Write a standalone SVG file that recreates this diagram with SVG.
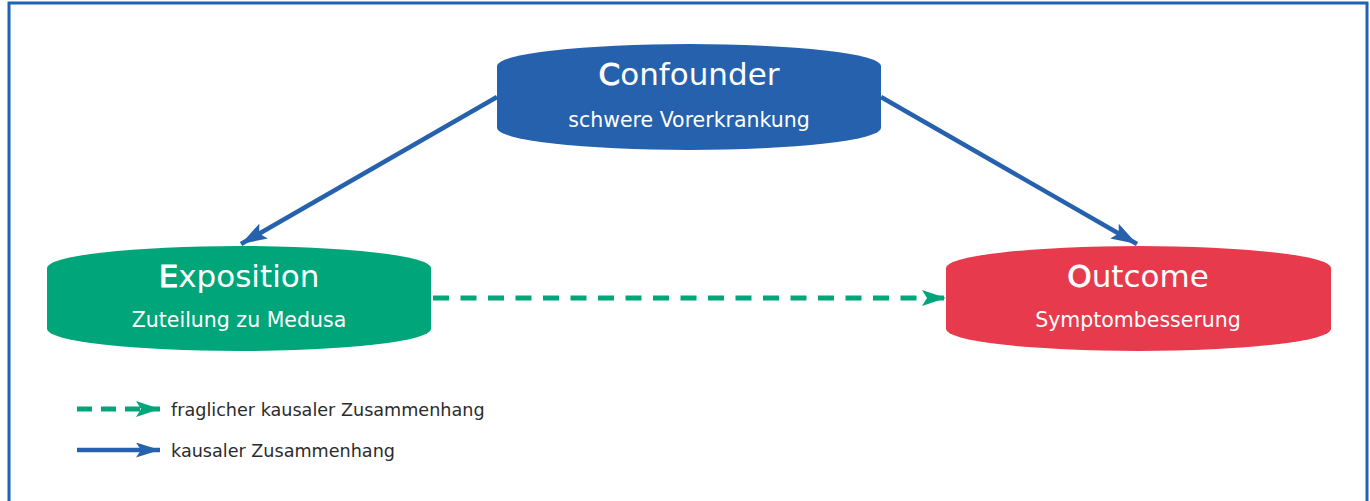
<svg xmlns="http://www.w3.org/2000/svg" width="1370" height="501" viewBox="0 0 1370 501">
<style>
.title{font-family:"DejaVu Sans",sans-serif;font-size:31px;fill:#fff;text-anchor:middle}
.sub{font-family:"DejaVu Sans",sans-serif;font-size:20.5px;fill:#fff;text-anchor:middle}
.b{stroke:#fff;stroke-width:0.9}
.leg{font-family:"DejaVu Sans",sans-serif;font-size:17.6px;fill:#2b2b2b}
.blue{stroke:#2561ad;stroke-width:4.5;fill:none}
.green{stroke:#00a67a;stroke-width:5;fill:none;stroke-dasharray:16 11.5}
</style>
<defs>
<marker id="ab" viewBox="0 0 26 17" refX="26" refY="8.5" markerWidth="26" markerHeight="17" markerUnits="userSpaceOnUse" orient="auto">
<path d="M0,0 L26,8.5 L0,17 L5,8.5 Z" fill="#2561ad"/>
</marker>
<marker id="ag" viewBox="0 0 24 16" refX="24" refY="8" markerWidth="24" markerHeight="16" markerUnits="userSpaceOnUse" orient="auto">
<path d="M0,0 L24,8 L0,16 L5,8 Z" fill="#00a67a"/>
</marker>
<marker id="lb" viewBox="0 0 24 15" refX="24" refY="7.5" markerWidth="24" markerHeight="15" markerUnits="userSpaceOnUse" orient="auto">
<path d="M0,0 L24,7.5 L0,15 L5,7.5 Z" fill="#2561ad"/>
</marker>
</defs>
<rect x="9" y="3" width="1358" height="510" fill="#fff" stroke="#1f63b4" stroke-width="3"/>
<g id="connectors">
<line class="blue" x1="497" y1="97" x2="241" y2="244" marker-end="url(#ab)"/>
<line class="blue" x1="881" y1="97" x2="1137" y2="244" marker-end="url(#ab)"/>
<line class="green" x1="433" y1="298" x2="946" y2="298" marker-end="url(#ag)"/>
</g>
<g id="confounder">
<path d="M497,66 A192,22 0 0 1 881,66 L881,128 A192,22 0 0 1 497,128 Z" fill="#2561ad"/>
<text class="title" x="689" y="85"><tspan class="b">C</tspan>onfounder</text>
<text class="sub" x="689" y="127">schwere Vorerkrankung</text>
</g>
<g id="exposition">
<path d="M47,268 A192,22 0 0 1 431,268 L431,329 A192,22 0 0 1 47,329 Z" fill="#00a67a"/>
<text class="title" x="239" y="287"><tspan class="b">E</tspan>xposition</text>
<text class="sub" x="239" y="327">Zuteilung zu Medusa</text>
</g>
<g id="outcome">
<path d="M946,268 A192.5,22 0 0 1 1331,268 L1331,329 A192.5,22 0 0 1 946,329 Z" fill="#e83a4d"/>
<text class="title" x="1138" y="287"><tspan class="b">O</tspan>utcome</text>
<text class="sub" x="1138" y="327">Symptombesserung</text>
</g>
<g id="legend">
<line class="green" x1="77" y1="409" x2="160" y2="409" stroke-width="4.5" style="stroke-dasharray:15 9" marker-end="url(#ag)"/>
<text class="leg" x="171" y="416">fraglicher kausaler Zusammenhang</text>
<line class="blue" x1="77" y1="450" x2="160" y2="450" marker-end="url(#lb)"/>
<text class="leg" x="171" y="457">kausaler Zusammenhang</text>
</g>
</svg>
